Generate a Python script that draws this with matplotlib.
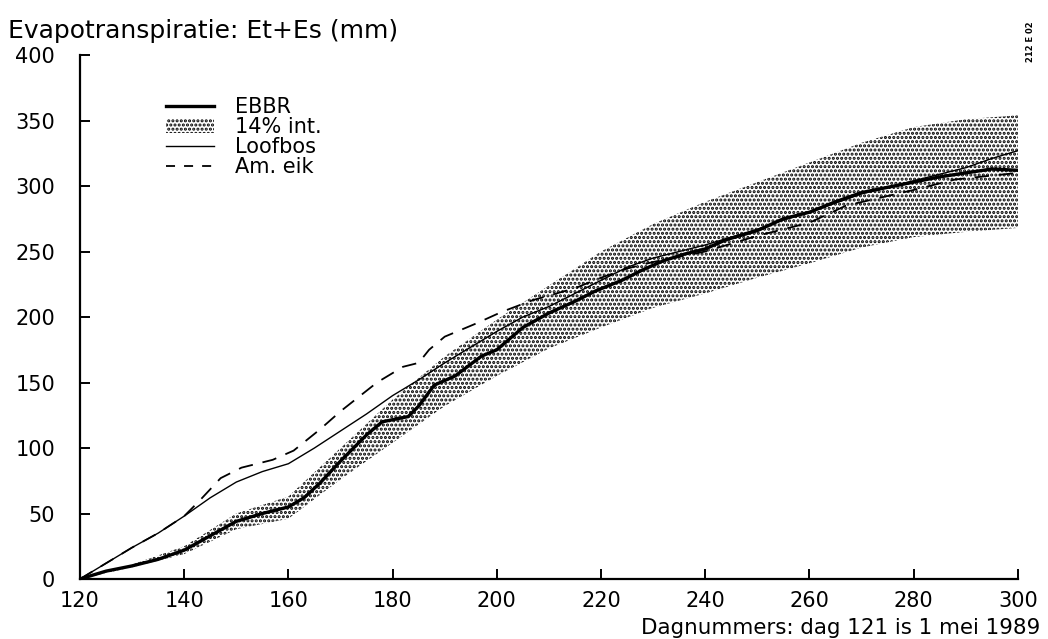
import matplotlib.pyplot as plt
from matplotlib.lines import Line2D
from matplotlib.patches import Patch

# EBBR (thick line)
ebbr_day = [120, 125, 130, 135, 140, 145, 150, 155, 160, 163, 166, 170, 175, 178, 183, 185,
            188, 192, 197, 200, 205, 210, 215, 219, 224, 228, 232, 236, 240, 244, 250, 255,
            260, 265, 270, 275, 280, 285, 290, 295, 300]
ebbr = [0, 6, 10, 15, 22, 33, 44, 50, 55, 62, 73, 90, 110, 120, 124, 132,
        148, 155, 170, 175, 192, 203, 212, 220, 228, 236, 243, 248, 252, 259, 266, 275,
        280, 288, 295, 299, 303, 307, 310, 313, 312]

# 14% interval band
band_day = [120, 130, 140, 150, 160, 170, 180, 190, 200, 210, 220, 230, 240, 250, 260,
            270, 280, 290, 300]
band_hi = [0, 11, 25, 50, 63, 100, 137, 170, 198, 224, 250, 271, 288, 303, 318,
           333, 345, 351, 354]
band_lo = [0, 9, 19, 38, 46, 76, 104, 132, 155, 176, 192, 207, 218, 230, 241,
           253, 261, 265, 268]

# Loofbos (thin line)
loof_day = [120, 125, 130, 135, 140, 145, 150, 155, 160, 165, 170, 175, 180, 185, 190,
            195, 200, 205, 210, 215, 220, 225, 230, 235, 240, 245, 250, 255, 260, 265,
            270, 275, 280, 285, 290, 295, 300]
loofbos = [0, 12, 24, 35, 48, 62, 74, 82, 88, 100, 113, 126, 140, 152, 165,
           177, 189, 200, 208, 218, 228, 238, 245, 250, 255, 261, 267, 274, 280, 287,
           294, 299, 304, 309, 314, 321, 327]

# Am. eik (dashed)
eik_day = [120, 125, 130, 135, 140, 143, 147, 151, 157, 161, 166, 170, 177, 182, 185,
           187, 190, 196, 201, 207, 215, 220, 225, 230, 240, 250, 260, 267, 280, 288,
           295, 300]
am_eik = [0, 12, 24, 35, 48, 60, 77, 85, 91, 98, 114, 128, 150, 162, 165,
          175, 185, 195, 204, 213, 222, 230, 237, 242, 250, 262, 272, 285, 297, 305,
          308, 310]

xticks = [120, 140, 160, 180, 200, 220, 240, 260, 280, 300]
yticks = [0, 50, 100, 150, 200, 250, 300, 350, 400]

plt.rcParams['hatch.linewidth'] = 1.5
fig = plt.figure(figsize=(10.48, 6.39), dpi=100)
ax = fig.add_axes([0.0763, 0.0939, 0.895, 0.82])

ax.fill_between(band_day, band_lo, band_hi, facecolor='white', edgecolor='black',
                hatch='....', linewidth=0)
ax.plot(loof_day, loofbos, color='black', lw=1.0)
ax.plot(eik_day, am_eik, color='black', lw=1.3, dashes=(8, 5.5))
ax.plot(ebbr_day, ebbr, color='black', lw=2.4)

ax.set_xlim(120, 300)
ax.set_ylim(0, 400)
ax.set_xticks(xticks)
ax.set_yticks(yticks)
for s in ['top', 'right']:
    ax.spines[s].set_visible(False)
for s in ['left', 'bottom']:
    ax.spines[s].set_linewidth(1.6)
ax.tick_params(direction='in', length=7, width=1.4, labelsize=15)
ax.tick_params(axis='y', pad=18)
ax.tick_params(axis='x', pad=9)

fig.text(0.008, 0.932, 'Evapotranspiratie: Et+Es (mm)', fontsize=18,
         ha='left', va='bottom')
fig.text(0.9924, 0.002, 'Dagnummers: dag 121 is 1 mei 1989', fontsize=15.4,
         ha='right', va='bottom')
fig.text(0.983, 0.935, '212 E 02', fontsize=6, rotation=90, ha='center', va='center',
         fontweight='bold')

handles = [Line2D([], [], color='black', lw=2.4),
           Patch(facecolor='white', edgecolor='black', hatch='....', linewidth=0),
           Line2D([], [], color='black', lw=1.0),
           Line2D([], [], color='black', lw=1.3, dashes=(5, 5))]
labels = ['EBBR', '14% int.', 'Loofbos', 'Am. eik']
ax.legend(handles, labels, loc='upper left', bbox_to_anchor=(0.083, 0.935), frameon=False,
          fontsize=15, handlelength=2.3, handletextpad=1.0, labelspacing=0.0,
          borderaxespad=0)

fig.savefig('out.png', dpi=100)
